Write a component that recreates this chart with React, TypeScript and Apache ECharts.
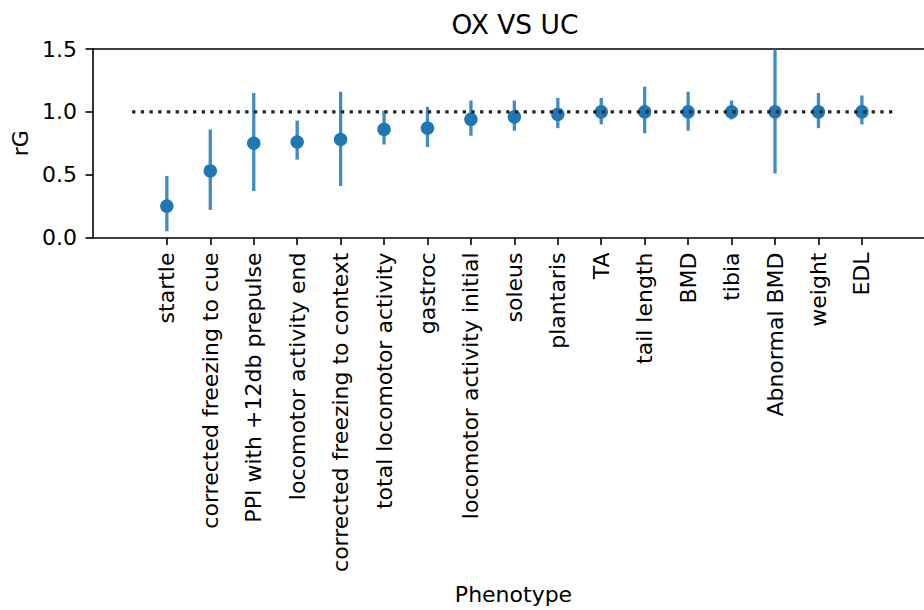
import React, { useEffect, useRef } from "react";
import * as echarts from "echarts";

const categories = [
  "startle",
  "corrected freezing to cue",
  "PPI with +12db prepulse",
  "locomotor activity end",
  "corrected freezing to context",
  "total locomotor activity",
  "gastroc",
  "locomotor activity initial",
  "soleus",
  "plantaris",
  "TA",
  "tail length",
  "BMD",
  "tibia",
  "Abnormal BMD",
  "weight",
  "EDL",
];
const rG = [0.25, 0.53, 0.75, 0.76, 0.78, 0.86, 0.87, 0.94, 0.96, 0.98, 1.0, 1.0, 1.0, 1.0, 1.0, 1.0, 1.0];
const lower = [0.05, 0.22, 0.37, 0.62, 0.41, 0.74, 0.72, 0.81, 0.85, 0.87, 0.9, 0.83, 0.85, 0.94, 0.51, 0.87, 0.9];
const upper = [0.49, 0.86, 1.15, 0.93, 1.16, 1.01, 1.04, 1.09, 1.09, 1.11, 1.11, 1.2, 1.16, 1.09, 1.5, 1.15, 1.13];
const refLineX = [-0.8, 16.8];
const refLineY = 1.0;
const yTicks = [0, 0.5, 1.0, 1.5];
const xMin = -1.7;
const xMax = 17.43;

const FONT = "DejaVu Sans";
const BLUE = "#1f77b4";

export default function App() {
  const ref = useRef<HTMLDivElement>(null);
  useEffect(() => {
    if (!ref.current) return;
    const chart = echarts.init(ref.current, undefined, { renderer: "svg" });
    const idx = categories.map((_, i) => i);
    chart.setOption({
      animation: false,
      backgroundColor: "#fff",
      title: {
        text: "OX VS UC",
        left: 510,
        textAlign: "center",
        top: 6,
        textStyle: { fontFamily: FONT, fontSize: 26.5, fontWeight: "normal", color: "#000" },
      },
      grid: {
        left: 93,
        right: 0,
        top: 49,
        bottom: 372.5,
        show: false,
      },
      xAxis: [
        {
          type: "value",
          min: xMin,
          max: xMax,
          name: "Phenotype",
          nameLocation: "middle",
          nameGap: 346,
          nameTextStyle: { fontFamily: FONT, fontSize: 22, color: "#000", padding: [0, 0, 0, 10] },
          axisLine: { show: true, onZero: false, lineStyle: { color: "#000", width: 1.6 } },
          axisTick: { show: true, customValues: idx, length: 7.5, lineStyle: { color: "#000", width: 1.6 } },
          axisLabel: {
            customValues: idx,
            rotate: 90,
            margin: 15,
            fontFamily: FONT,
            fontSize: 22,
            color: "#000",
            formatter: (v: number) => categories[Math.round(v)] ?? "",
          },
          splitLine: { show: false },
        },
        {
          type: "value",
          position: "top",
          min: xMin,
          max: xMax,
          axisLine: { show: true, onZero: false, lineStyle: { color: "#000", width: 1.6 } },
          axisTick: { show: false },
          axisLabel: { show: false },
          splitLine: { show: false },
        },
      ],
      yAxis: {
        type: "value",
        min: 0,
        max: 1.5,
        interval: 0.5,
        name: "rG",
        nameLocation: "middle",
        nameGap: 57,
        nameRotate: 90,
        nameTextStyle: { fontFamily: FONT, fontSize: 22, color: "#000" },
        axisLine: { show: true, onZero: false, lineStyle: { color: "#000", width: 1.6 } },
        axisTick: { show: true, inside: false, length: 7.5, lineStyle: { color: "#000", width: 1.6 } },
        axisLabel: {
          margin: 16,
          fontFamily: FONT,
          fontSize: 22,
          color: "#000",
          customValues: yTicks,
          formatter: (v: number) => v.toFixed(1),
        },
        splitLine: { show: false },
      },
      series: [
        {
          type: "custom",
          z: 2,
          xAxisIndex: 0,
          data: idx.map((i) => [i, lower[i], upper[i]]),
          renderItem: (params: any, api: any) => {
            const x = api.value(0);
            const p1 = api.coord([x, api.value(1)]);
            const p2 = api.coord([x, api.value(2)]);
            return {
              type: "line",
              shape: { x1: p1[0], y1: p1[1], x2: p2[0], y2: p2[1] },
              style: { stroke: BLUE, lineWidth: 3.3, opacity: 0.85 },
            };
          },
        },
        {
          type: "scatter",
          z: 3,
          xAxisIndex: 0,
          symbol: "circle",
          symbolSize: 13.5,
          itemStyle: { color: BLUE, opacity: 1 },
          data: idx.map((i) => [i, rG[i]]),
        },
        {
          type: "line",
          z: 4,
          xAxisIndex: 0,
          symbol: "none",
          lineStyle: { color: "#222", width: 3.3, type: [3.3, 5.4] },
          data: refLineX.map((x) => [x, refLineY]),
        },
      ],
    });
    return () => chart.dispose();
  }, []);
  return <div ref={ref} style={{ position: "absolute", left: 0, top: 0, width: 924, height: 610 }} />;
}
